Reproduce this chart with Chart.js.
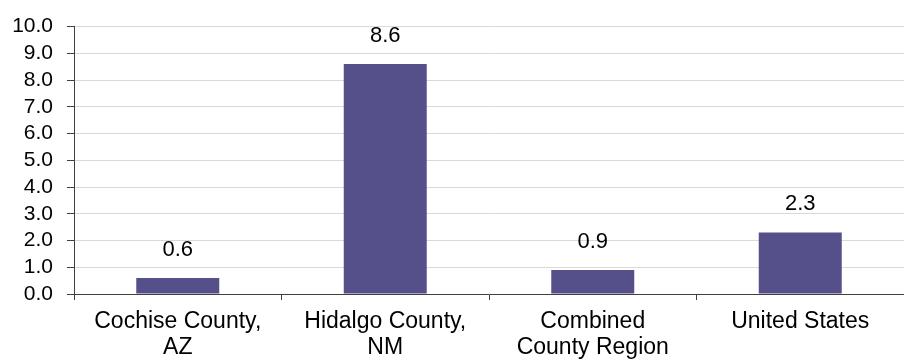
<!DOCTYPE html>
<html lang="en">
<head>
  <meta charset="UTF-8">
  <title>Rate by Region</title>
  <script src="https://cdn.jsdelivr.net/npm/chart.js"></script>
  <style>
    html, body {
      margin: 0;
      padding: 0;
      background: #ffffff;
    }
    #wrap {
      width: 904px;
      height: 359px;
    }
  </style>
</head>
<body>
  <div id="wrap"><canvas id="grafico"></canvas></div>

  <script>
    const categorias = [
      ["Cochise County,", "AZ"],
      ["Hidalgo County,", "NM"],
      ["Combined", "County Region"],
      ["United States"]
    ];
    const valores = [0.6, 8.6, 0.9, 2.3];
    const eixoY = { min: 0, max: 10, passo: 1 };

    const fonte = "'Liberation Sans', Arial, sans-serif";
    const corBarra = "#55508a";

    // rótulos de valor acima das barras
    const rotulos = {
      id: "rotulos",
      afterDatasetsDraw(chart) {
        const ctx = chart.ctx;
        const meta = chart.getDatasetMeta(0);
        ctx.save();
        ctx.font = "22px " + fonte;
        ctx.fillStyle = "#000000";
        ctx.textAlign = "center";
        ctx.textBaseline = "alphabetic";
        meta.data.forEach((bar, i) => {
          ctx.fillText(valores[i].toFixed(1), bar.x, bar.y - 22);
        });
        ctx.restore();
      }
    };

    new Chart(document.getElementById("grafico"), {
      type: "bar",
      data: {
        labels: categorias,
        datasets: [{
          data: valores,
          backgroundColor: corBarra,
          borderWidth: 0,
          categoryPercentage: 0.4,
          barPercentage: 1.0
        }]
      },
      options: {
        responsive: true,
        maintainAspectRatio: false,
        animation: false,
        layout: { padding: { top: 1, right: 0, left: 0, bottom: 0 } },
        plugins: {
          legend: { display: false },
          tooltip: { enabled: false }
        },
        scales: {
          x: {
            grid: {
              drawOnChartArea: false,
              offset: true,
              tickLength: 6,
              tickColor: "#404040"
            },
            border: { color: "#404040", width: 1 },
            ticks: {
              color: "#000000",
              font: { family: fonte, size: 23, lineHeight: 1.15 },
              padding: 8,
              maxRotation: 0,
              autoSkip: false
            },
            afterFit(scale) { scale.height = 65; }
          },
          y: {
            min: eixoY.min,
            max: eixoY.max,
            grid: {
              color: "#d9d9d9",
              tickColor: "#404040",
              tickLength: 7
            },
            border: { color: "#404040", width: 1 },
            ticks: {
              stepSize: eixoY.passo,
              autoSkip: false,
              color: "#000000",
              font: { family: fonte, size: 21 },
              padding: 14,
              callback: v => Number(v).toFixed(1)
            },
            afterFit(scale) { scale.width = 74; }
          }
        }
      },
      plugins: [rotulos]
    });
  </script>
</body>
</html>
